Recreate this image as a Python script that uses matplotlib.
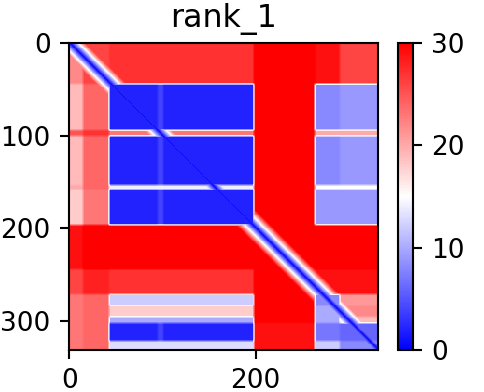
import numpy as np
import matplotlib
matplotlib.use("Agg")
import matplotlib.pyplot as plt

# PAE matrix, described as blocks: row segments (aligned residue) x column segments (scored residue)
n_res = 332
row_edges = [0, 45, 95, 101, 154, 159, 197, 245, 272, 284, 296, 303, 322, 332]
col_edges = [0, 15, 43, 95, 101, 198, 263, 290, 332]

# mean expected error (A) for each block, one list per row segment
pae_blocks = [
    [22, 26, 27, 27, 27, 31, 29, 26],   # 0-45   N-terminus
    [19, 24, 2, 4, 2, 30, 8, 9],        # 45-95  domain A
    [25, 27, 23, 23, 23, 31, 20, 20],   # 95-101 loop
    [19, 24, 2, 4, 2, 30, 8, 9],        # 101-154
    [20, 24, 14, 14, 14, 30, 15, 15],   # 154-159 loop
    [18, 23, 2, 4, 2, 30, 9, 9],        # 159-197
    [29, 31, 31, 31, 31, 31, 31, 31],   # 197-245 linker
    [26, 28, 27, 27, 27, 31, 29, 29],   # 245-272
    [23, 24, 12, 12, 12, 30, 8, 21],    # 272-284
    [23, 24, 18, 18, 18, 30, 10, 22],   # 284-296
    [23, 24, 10, 10, 10, 30, 10, 19],   # 296-303
    [23, 24, 2, 4, 2, 29, 7, 6],        # 303-322 domain C
    [23, 24, 13, 13, 13, 29, 12, 8],    # 322-332 tail
]
diag_min = 0.5      # error on the diagonal
diag_slope = 1.6    # rise per residue away from the diagonal

# build the matrix from the blocks
pae = np.zeros((n_res, n_res))
for r in range(len(row_edges) - 1):
    for c in range(len(col_edges) - 1):
        pae[row_edges[r]:row_edges[r + 1], col_edges[c]:col_edges[c + 1]] = pae_blocks[r][c]

# soften block edges a little (3x3 box)
padded = np.pad(pae, 1, mode="edge")
pae = sum(padded[1 + dy:1 + dy + n_res, 1 + dx:1 + dx + n_res]
          for dy in (-1, 0, 1) for dx in (-1, 0, 1)) / 9.0

idx = np.arange(n_res)
dist = np.abs(idx[:, None] - idx[None, :])
pae = np.minimum(pae, diag_min + diag_slope * dist)

fig = plt.figure(figsize=(484 / 190, 392 / 190), dpi=190)
ax = fig.add_axes([69 / 484, 42 / 392, 309 / 484, 307 / 392])
im = ax.imshow(pae, cmap="bwr", vmin=0, vmax=30, aspect="auto", interpolation="nearest")
ax.set_title("rank_1")
ax.set_xticks([0, 200])
ax.set_yticks([0, 100, 200, 300])

cax = fig.add_axes([398 / 484, 42 / 392, 15 / 484, 307 / 392])
cb = fig.colorbar(im, cax=cax)
cb.set_ticks([0, 10, 20, 30])

fig.savefig("out.png", dpi=190)
